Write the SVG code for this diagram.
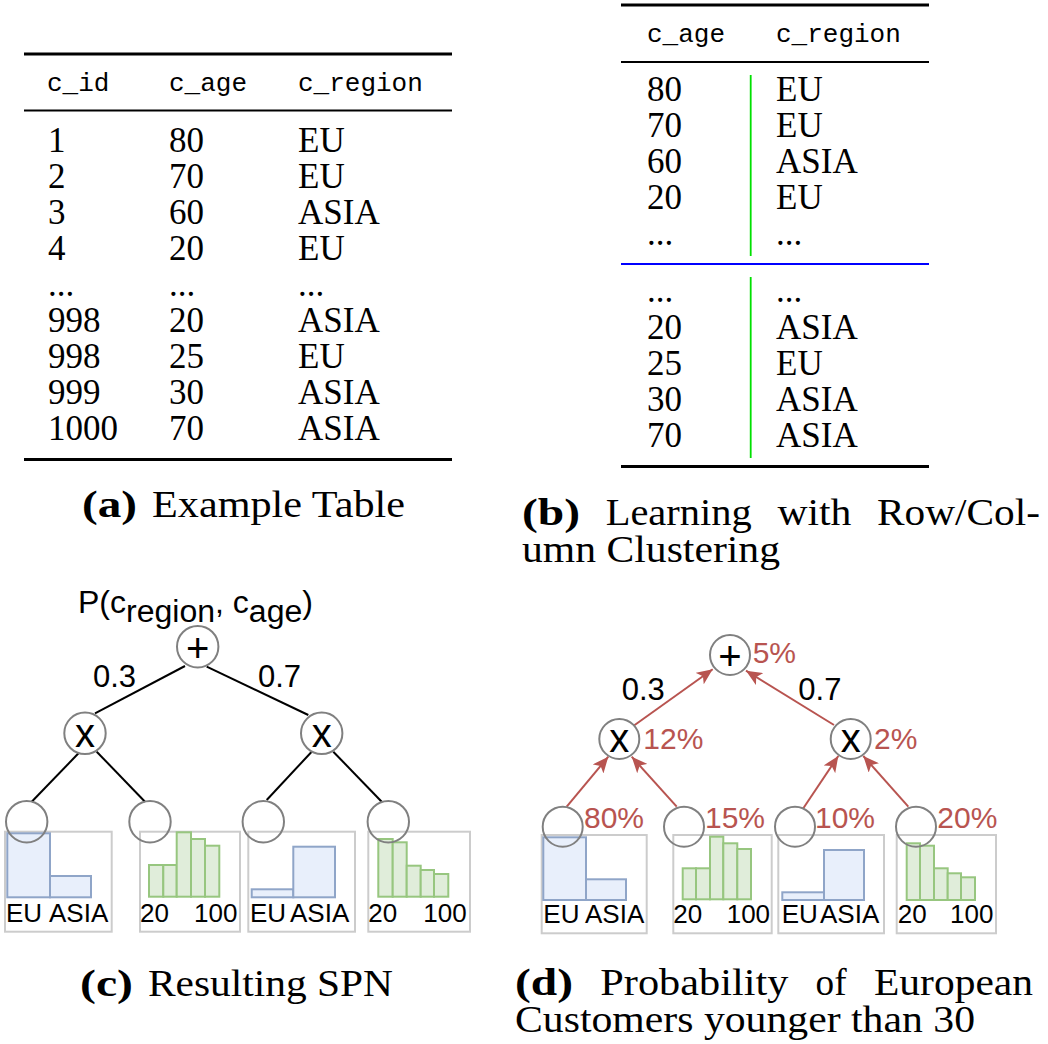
<svg xmlns="http://www.w3.org/2000/svg" width="1048" height="1044" viewBox="0 0 1048 1044">
<defs>
<style>
.mono{font-family:"Liberation Mono","DejaVu Sans Mono",monospace;font-size:26px;fill:#000}
.ser{font-family:"Liberation Serif","DejaVu Serif",serif;font-size:35px;fill:#000}
.cap{font-family:"Liberation Serif","DejaVu Serif",serif;font-size:38px;fill:#000}
.capb{font-family:"Liberation Serif","DejaVu Serif",serif;font-size:38px;font-weight:bold;fill:#000}
.rule{stroke:#000;stroke-width:3}
.mid{stroke:#000;stroke-width:2}
.sans{font-family:"Liberation Sans",Arial,sans-serif;fill:#000}
.lbl{font-family:"Liberation Sans",Arial,sans-serif;font-size:31px;fill:#000}
.pct{font-family:"Liberation Sans",Arial,sans-serif;font-size:30px;fill:#b85450}
.sym{font-family:"Liberation Sans",Arial,sans-serif;font-size:40px;fill:#000;text-anchor:middle}
.hl{font-family:"Liberation Sans",Arial,sans-serif;font-size:26px;fill:#000}
.node{fill:#fff;stroke:#808080;stroke-width:2}
.leaf{fill:none;stroke:#808080;stroke-width:2}
.box{fill:none;stroke:#cccccc;stroke-width:2}
.blue{fill:#e8effb;stroke:#8fa5c8;stroke-width:2}
.green{fill:#e0edda;stroke:#97c67f;stroke-width:2}
.edge{stroke:#000;stroke-width:2;fill:none}
.arrow{stroke:#b85450;stroke-width:2;fill:none;marker-end:url(#arr)}
</style>
<marker id="arr" viewBox="0 0 16 14" refX="16" refY="7" markerWidth="16" markerHeight="14" markerUnits="userSpaceOnUse" orient="auto">
<path d="M0,0 L16,7 L0,14 L4,7 z" fill="#b85450"/>
</marker>
</defs>
<rect width="1048" height="1044" fill="#fff"/>

<!-- (a) Example table -->
<g id="table-a">
<line class="rule" x1="24" y1="54" x2="452" y2="54"/>
<text class="mono" x="47" y="91">c_id</text>
<text class="mono" x="169" y="91">c_age</text>
<text class="mono" x="298" y="91">c_region</text>
<line class="mid" x1="24" y1="110.5" x2="452" y2="110.5"/>
<g class="ser">
<text x="48" y="152">1</text><text x="169" y="152">80</text><text x="298" y="152">EU</text>
<text x="48" y="188">2</text><text x="169" y="188">70</text><text x="298" y="188">EU</text>
<text x="48" y="224">3</text><text x="169" y="224">60</text><text x="298" y="224">ASIA</text>
<text x="48" y="260">4</text><text x="169" y="260">20</text><text x="298" y="260">EU</text>
<text x="48" y="296">...</text><text x="169" y="296">...</text><text x="298" y="296">...</text>
<text x="48" y="332">998</text><text x="169" y="332">20</text><text x="298" y="332">ASIA</text>
<text x="48" y="368">998</text><text x="169" y="368">25</text><text x="298" y="368">EU</text>
<text x="48" y="404">999</text><text x="169" y="404">30</text><text x="298" y="404">ASIA</text>
<text x="48" y="440">1000</text><text x="169" y="440">70</text><text x="298" y="440">ASIA</text>
</g>
<line class="rule" x1="24" y1="459.5" x2="452" y2="459.5"/>
</g>
<g id="caption-a">
<text class="capb" x="82" y="517" textLength="55" lengthAdjust="spacingAndGlyphs">(a)</text>
<text class="cap" x="152" y="517" textLength="253" lengthAdjust="spacingAndGlyphs">Example Table</text>
</g>

<!-- (b) Row/Column clustering table -->
<g id="table-b">
<line class="rule" x1="621" y1="5" x2="929" y2="5"/>
<text class="mono" x="647" y="42">c_age</text>
<text class="mono" x="776" y="42">c_region</text>
<line class="mid" x1="621" y1="62" x2="929" y2="62"/>
<line x1="750.7" y1="75" x2="750.7" y2="256" stroke="#00e000" stroke-width="1.8"/>
<line x1="621" y1="264" x2="929" y2="264" stroke="#0000ff" stroke-width="2"/>
<line x1="750.7" y1="277" x2="750.7" y2="458" stroke="#00e000" stroke-width="1.8"/>
<g class="ser">
<text x="647" y="101">80</text><text x="776" y="101">EU</text>
<text x="647" y="137">70</text><text x="776" y="137">EU</text>
<text x="647" y="173">60</text><text x="776" y="173">ASIA</text>
<text x="647" y="209">20</text><text x="776" y="209">EU</text>
<text x="647" y="245">...</text><text x="776" y="245">...</text>
<text x="647" y="302">...</text><text x="776" y="302">...</text>
<text x="647" y="339">20</text><text x="776" y="339">ASIA</text>
<text x="647" y="375">25</text><text x="776" y="375">EU</text>
<text x="647" y="411">30</text><text x="776" y="411">ASIA</text>
<text x="647" y="447">70</text><text x="776" y="447">ASIA</text>
</g>
<line class="rule" x1="621" y1="466.5" x2="929" y2="466.5"/>
</g>
<g id="caption-b">
<text class="capb" x="522" y="525" textLength="58" lengthAdjust="spacingAndGlyphs">(b)</text>
<text class="cap" x="605.7" y="525" textLength="146" lengthAdjust="spacingAndGlyphs">Learning</text>
<text class="cap" x="777.4" y="525" textLength="74" lengthAdjust="spacingAndGlyphs">with</text>
<text class="cap" x="877" y="525" textLength="163" lengthAdjust="spacingAndGlyphs">Row/Col-</text>
<text class="cap" x="522" y="562" textLength="258" lengthAdjust="spacingAndGlyphs">umn Clustering</text>
</g>

<!-- (c) Resulting SPN -->
<g id="spn-c-connectors">
<line class="edge" x1="185" y1="666" x2="95" y2="713.3"/>
<line class="edge" x1="206.7" y1="666.7" x2="308.3" y2="715"/>
<line class="edge" x1="79" y1="752.8" x2="31.7" y2="801.7"/>
<line class="edge" x1="96.7" y1="751.7" x2="145" y2="801.7"/>
<line class="edge" x1="311.7" y1="751.7" x2="266.7" y2="800"/>
<line class="edge" x1="333.3" y1="751.7" x2="381.7" y2="801.7"/>
</g>
<g id="c-title">
<text class="sans" x="78" y="613" font-size="31" textLength="235" lengthAdjust="spacingAndGlyphs">P(c<tspan dy="9">region</tspan><tspan dy="-9">, c</tspan><tspan dy="9">age</tspan><tspan dy="-9">)</tspan></text>
</g>
<g id="c-sum">
<circle class="node" cx="197.7" cy="646.7" r="20.7"/>
<text class="sym" x="197.7" y="662">+</text>
</g>
<g id="c-w03"><text class="lbl" x="93" y="687">0.3</text></g>
<g id="c-w07"><text class="lbl" x="258" y="687">0.7</text></g>
<g id="c-prod-left">
<circle class="node" cx="85" cy="733.3" r="20.7"/>
<text class="sym" x="85" y="746.5">x</text>
</g>
<g id="c-prod-right">
<circle class="node" cx="321.7" cy="733.3" r="20.7"/>
<text class="sym" x="321.7" y="746.5">x</text>
</g>
<g id="c-leaf1">
<rect class="box" x="5" y="831.7" width="106.7" height="100"/>
<rect class="blue" x="7.3" y="833.3" width="42.7" height="64"/>
<rect class="blue" x="50" y="876" width="41" height="21.3"/>
<text class="hl" x="6" y="921.7">EU</text>
<text class="hl" x="49" y="921.7">ASIA</text>
<circle class="leaf" cx="26.7" cy="821.7" r="20.7"/>
</g>
<g id="c-leaf2">
<rect class="box" x="140" y="831.7" width="100" height="100"/>
<rect class="green" x="149" y="865" width="14.3" height="31.7"/>
<rect class="green" x="163.3" y="865" width="13.4" height="31.7"/>
<rect class="green" x="176.7" y="832.3" width="14.3" height="64.4"/>
<rect class="green" x="191" y="839" width="14" height="57.7"/>
<rect class="green" x="205" y="845.7" width="14.3" height="51"/>
<text class="hl" x="140" y="921.7">20</text>
<text class="hl" x="194" y="921.7">100</text>
<circle class="leaf" cx="150" cy="821.7" r="20.7"/>
</g>
<g id="c-leaf3">
<rect class="box" x="248.3" y="831.7" width="106.7" height="100"/>
<rect class="blue" x="251.7" y="889.3" width="41.6" height="8"/>
<rect class="blue" x="293.3" y="846.7" width="41.7" height="50.6"/>
<text class="hl" x="250" y="921.7">EU</text>
<text class="hl" x="290" y="921.7">ASIA</text>
<circle class="leaf" cx="263.3" cy="821.7" r="20.7"/>
</g>
<g id="c-leaf4">
<rect class="box" x="368.3" y="831.7" width="101.7" height="100"/>
<rect class="green" x="378.3" y="839" width="14.4" height="57.7"/>
<rect class="green" x="392.7" y="842.3" width="14" height="54.4"/>
<rect class="green" x="406.7" y="865.7" width="14" height="31"/>
<rect class="green" x="420.7" y="870" width="13.3" height="26.7"/>
<rect class="green" x="434" y="874" width="14.3" height="22.7"/>
<text class="hl" x="368.3" y="921.7">20</text>
<text class="hl" x="423.3" y="921.7">100</text>
<circle class="leaf" cx="388.3" cy="821.7" r="20.7"/>
</g>
<g id="caption-c">
<text class="capb" x="80" y="996" textLength="53" lengthAdjust="spacingAndGlyphs">(c)</text>
<text class="cap" x="148" y="996" textLength="245" lengthAdjust="spacingAndGlyphs">Resulting SPN</text>
</g>

<!-- (d) Probability evaluation -->
<g id="spn-d-connectors">
<line class="arrow" x1="566.7" y1="806.7" x2="608.3" y2="756.7"/>
<line class="arrow" x1="676.7" y1="806.7" x2="631.7" y2="756.7"/>
<line class="arrow" x1="803.3" y1="808.3" x2="838.3" y2="756"/>
<line class="arrow" x1="908.3" y1="806.7" x2="863.3" y2="756"/>
<line class="arrow" x1="633.3" y1="726" x2="712.7" y2="669.3"/>
<line class="arrow" x1="834" y1="725" x2="746" y2="670.7"/>
</g>
<g id="d-sum">
<circle class="node" cx="730" cy="655" r="20"/>
<text class="sym" x="730" y="670">+</text>
<text class="pct" x="752.7" y="663.3">5%</text>
</g>
<g id="d-w03"><text class="lbl" x="621.7" y="700">0.3</text></g>
<g id="d-w07"><text class="lbl" x="798.3" y="700">0.7</text></g>
<g id="d-prod-left">
<circle class="node" cx="619.3" cy="739" r="20"/>
<text class="sym" x="619.3" y="752">x</text>
<text class="pct" x="643.3" y="749.3">12%</text>
</g>
<g id="d-prod-right">
<circle class="node" cx="850.7" cy="739" r="20"/>
<text class="sym" x="850.7" y="752">x</text>
<text class="pct" x="874" y="749.3">2%</text>
</g>
<g id="d-leaf1">
<rect class="box" x="541.7" y="835" width="105" height="98.3"/>
<rect class="blue" x="543.3" y="837.3" width="42.7" height="62.7"/>
<rect class="blue" x="586" y="879.3" width="40" height="20.7"/>
<text class="hl" x="543.3" y="923.3">EU</text>
<text class="hl" x="585" y="923.3">ASIA</text>
<circle class="leaf" cx="562.7" cy="826.7" r="20"/>
<text class="pct" x="584" y="828.3">80%</text>
</g>
<g id="d-leaf2">
<rect class="box" x="673.3" y="835" width="98.4" height="98.3"/>
<rect class="green" x="682.7" y="868.3" width="13.3" height="31"/>
<rect class="green" x="696" y="868.3" width="14" height="31"/>
<rect class="green" x="710" y="836.7" width="13.3" height="62.6"/>
<rect class="green" x="723.3" y="843.3" width="14" height="56"/>
<rect class="green" x="737.3" y="849" width="13.7" height="50.3"/>
<text class="hl" x="673.3" y="923.3">20</text>
<text class="hl" x="726.7" y="923.3">100</text>
<circle class="leaf" cx="684" cy="826.7" r="20"/>
<text class="pct" x="705" y="828.3">15%</text>
</g>
<g id="d-leaf3">
<rect class="box" x="778.3" y="835" width="105.7" height="98.3"/>
<rect class="blue" x="782.3" y="892.3" width="41.7" height="7.7"/>
<rect class="blue" x="824" y="850" width="40" height="50"/>
<text class="hl" x="781.7" y="923.3">EU</text>
<text class="hl" x="820" y="923.3">ASIA</text>
<circle class="leaf" cx="795" cy="826.7" r="20"/>
<text class="pct" x="815" y="828.3">10%</text>
</g>
<g id="d-leaf4">
<rect class="box" x="896.7" y="835" width="99.3" height="98.3"/>
<rect class="green" x="906.7" y="843.3" width="13.3" height="56.7"/>
<rect class="green" x="920" y="845.7" width="14" height="54.3"/>
<rect class="green" x="934" y="868.3" width="13.7" height="31.7"/>
<rect class="green" x="947.7" y="873.3" width="13.3" height="26.7"/>
<rect class="green" x="961" y="877.3" width="14" height="22.7"/>
<text class="hl" x="897.7" y="923.3">20</text>
<text class="hl" x="950" y="923.3">100</text>
<circle class="leaf" cx="916" cy="826.7" r="20"/>
<text class="pct" x="937.3" y="828.3">20%</text>
</g>
<g id="caption-d">
<text class="capb" x="515" y="995" textLength="58" lengthAdjust="spacingAndGlyphs">(d)</text>
<text class="cap" x="600.3" y="995" textLength="188" lengthAdjust="spacingAndGlyphs">Probability</text>
<text class="cap" x="815.6" y="995" textLength="31" lengthAdjust="spacingAndGlyphs">of</text>
<text class="cap" x="874" y="995" textLength="159" lengthAdjust="spacingAndGlyphs">European</text>
<text class="cap" x="515" y="1032" textLength="460" lengthAdjust="spacingAndGlyphs">Customers younger than 30</text>
</g>
</svg>
